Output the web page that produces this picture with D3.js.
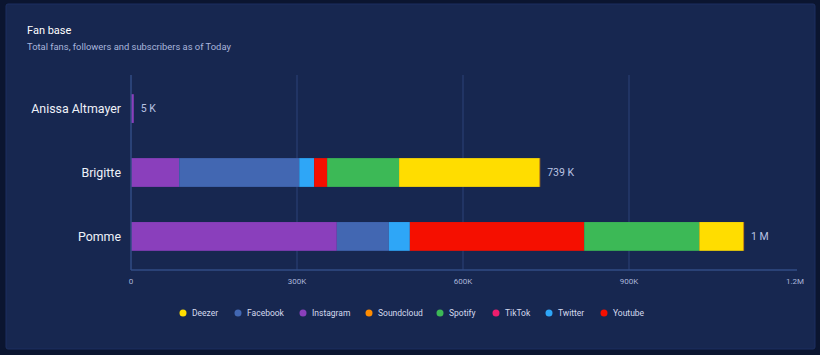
<!DOCTYPE html>
<html><head><meta charset="utf-8">
<script src="https://cdn.jsdelivr.net/npm/d3@7"></script>
<style>
html,body{margin:0;padding:0;background:#0b1530;}
svg{display:block;font-family:Roboto, "Noto Sans", sans-serif;}
</style></head>
<body><svg id="c" width="820" height="355"></svg>
<script>
const artists = ["Anissa Altmayer", "Brigitte", "Pomme"];
const platforms = ["Deezer","Facebook","Instagram","Soundcloud","Spotify","TikTok","Twitter","Youtube"];
const colors = ["#ffdd00","#4267b2","#8a3fbc","#ff8c00","#3cb956","#ee1d6d","#2ea6f7","#f50f00"];
const stackOrder = ["Instagram","Facebook","Twitter","Youtube","Spotify","Deezer","Soundcloud","TikTok"];
const instagram = [5, 87, 372];
const facebook = [0, 217, 94];
const twitter = [0, 27, 38];
const youtube = [0, 23.5, 315];
const spotify = [0, 130, 208];
const deezer = [0, 254, 80];
const soundcloud = [0, 1, 1];
const tiktok = [0, 0, 0];
const totalLabels = ["5 K", "739 K", "1 M"];
const xTicks = [0, 300, 600, 900, 1200];
const xTickLabels = ["0", "300K", "600K", "900K", "1.2M"];

const seriesMap = {Instagram:instagram, Facebook:facebook, Twitter:twitter, Youtube:youtube, Spotify:spotify, Deezer:deezer, Soundcloud:soundcloud, TikTok:tiktok};
const table = artists.map((a,i)=>{const o={artist:a}; platforms.forEach(p=>o[p]=seriesMap[p][i]); return o;});
const color = d3.scaleOrdinal().domain(platforms).range(colors);

const svg = d3.select("#c");
svg.append("rect").attr("x",6).attr("y",4).attr("width",809).attr("height",345).attr("rx",2)
  .attr("fill","#172750").attr("stroke","#1d2f60").attr("stroke-width",1);

svg.append("text").attr("x",27).attr("y",34).attr("fill","#ffffff").attr("font-size",11).text("Fan base");
svg.append("text").attr("x",27).attr("y",50).attr("fill","#a9b6dc").attr("font-size",9.4).text("Total fans, followers and subscribers as of Today");

const x = d3.scaleLinear().domain([0,1200]).range([131,795]);
const y = d3.scaleBand().domain(artists).range([75,270]).paddingInner(0.55).paddingOuter(0.3);

// gridlines
svg.append("g").selectAll("line").data(xTicks.slice(1,4)).join("line")
  .attr("x1",d=>x(d)).attr("x2",d=>x(d)).attr("y1",75).attr("y2",270)
  .attr("stroke","#2c4378").attr("stroke-width",1);

const stack = d3.stack().keys(stackOrder)(table);
svg.append("g").selectAll("g").data(stack).join("g").attr("fill",d=>color(d.key))
  .selectAll("rect").data(d=>d).join("rect")
  .attr("x",d=>x(d[0])).attr("width",d=>Math.max(0,x(d[1])-x(d[0])))
  .attr("y",d=>y(d.data.artist)).attr("height",y.bandwidth());

// axes lines
svg.append("line").attr("x1",131).attr("x2",131).attr("y1",75).attr("y2",270).attr("stroke","#324d85").attr("stroke-width",1.5);
svg.append("line").attr("x1",131).attr("x2",797).attr("y1",270).attr("y2",270).attr("stroke","#324d85").attr("stroke-width",1.5);

svg.append("g").selectAll("text").data(xTicks).join("text")
  .attr("x",d=>x(d)).attr("y",284).attr("text-anchor","middle").attr("fill","#aab5d8").attr("font-size",8)
  .text((d,i)=>xTickLabels[i]);

svg.append("g").selectAll("text").data(artists).join("text")
  .attr("x",121).attr("y",d=>y(d)+y.bandwidth()/2).attr("dy","0.35em").attr("text-anchor","end")
  .attr("fill","#eef1f8").attr("font-size",12.4).text(d=>d);

const totals = table.map(r=>platforms.reduce((s,p)=>s+r[p],0));
svg.append("g").selectAll("text").data(artists).join("text")
  .attr("x",(d,i)=>x(totals[i])+7).attr("y",d=>y(d)+y.bandwidth()/2).attr("dy","0.35em")
  .attr("fill","#b9c3e2").attr("font-size",10.5).text((d,i)=>totalLabels[i]);

// legend
const legX = [183,238,303,369,440,496,549,604];
const lg = svg.append("g").selectAll("g").data(platforms).join("g")
  .attr("transform",(d,i)=>`translate(${legX[i]},313)`);
lg.append("circle").attr("r",3.5).attr("fill",d=>color(d));
lg.append("text").attr("x",9).attr("dy","0.35em").attr("fill","#d4daee").attr("font-size",8.5).text(d=>d);
</script></body></html>
